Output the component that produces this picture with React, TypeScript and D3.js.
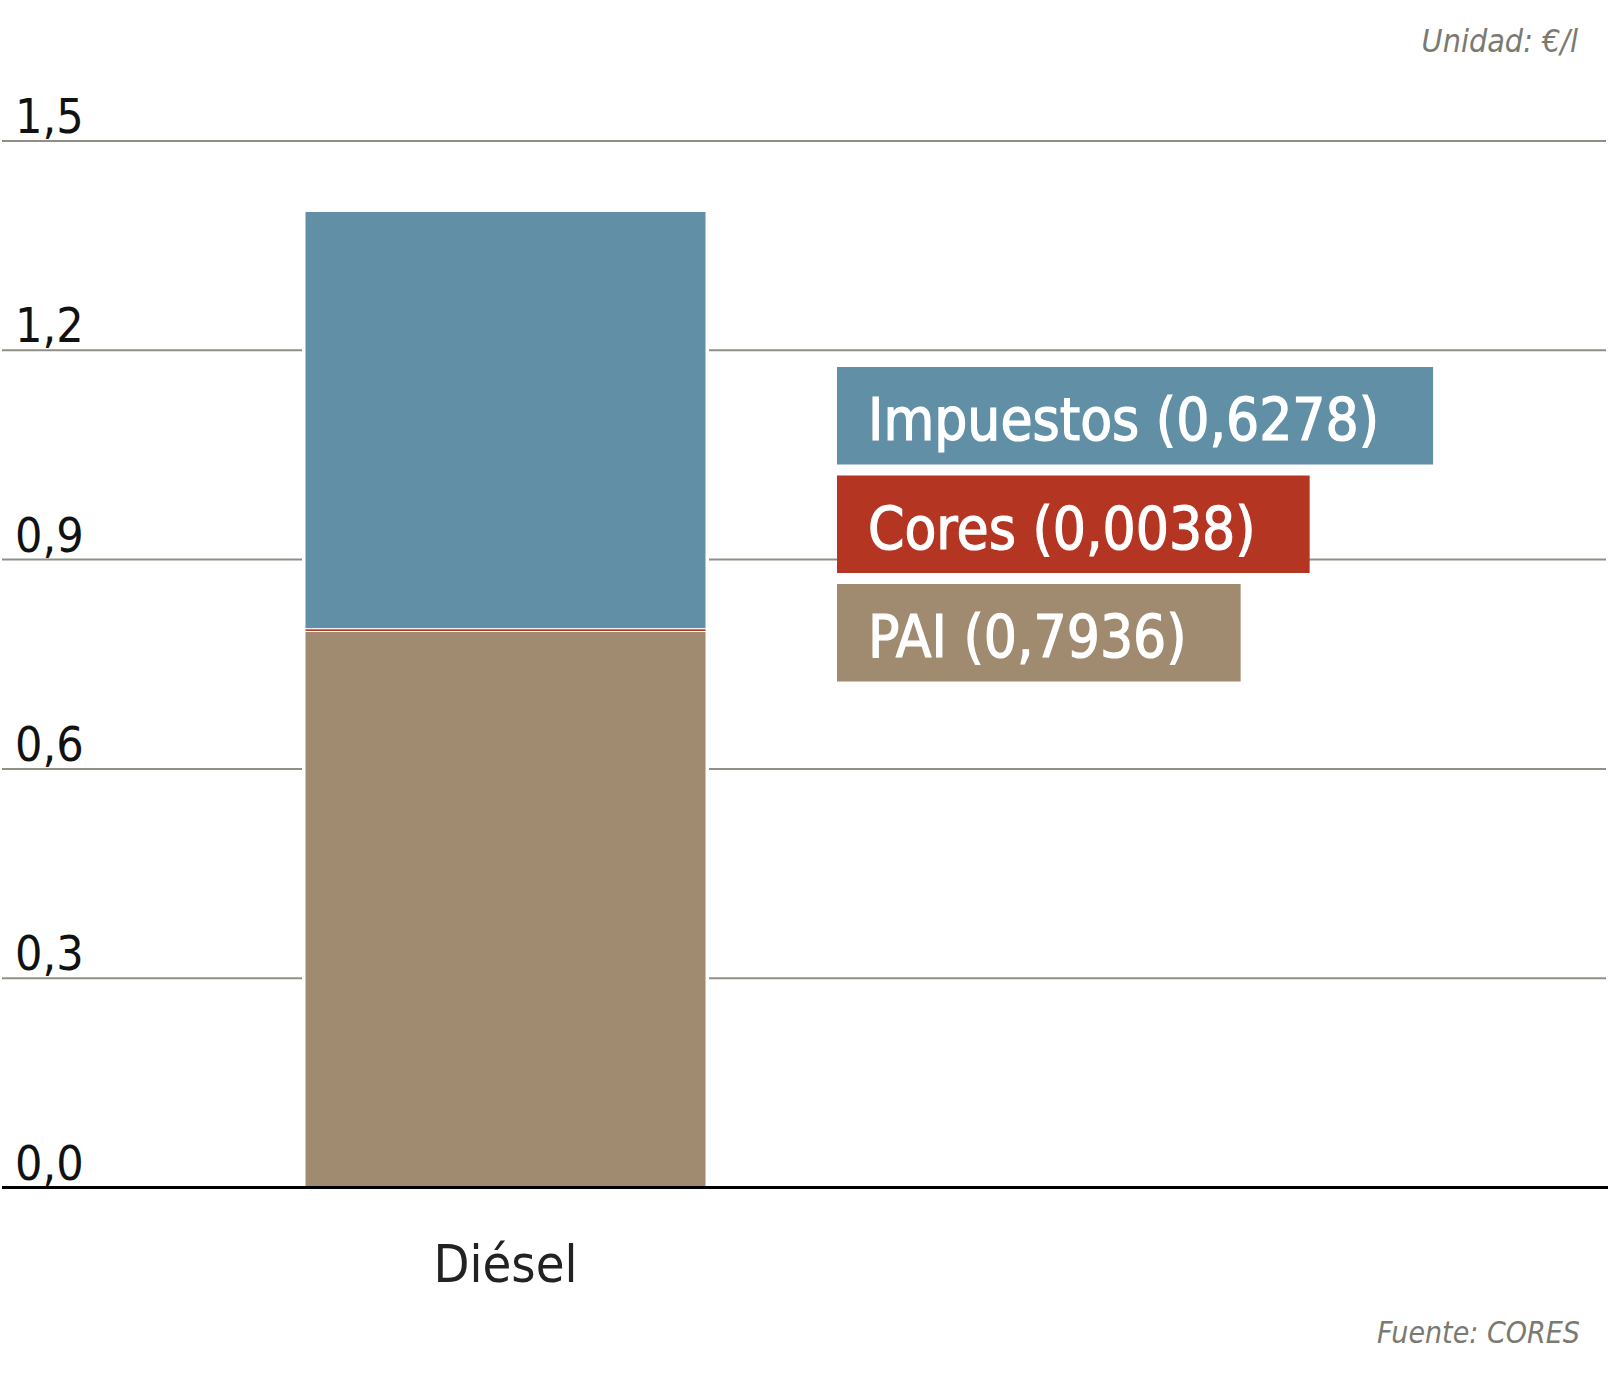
import * as d3 from "d3";
import { useEffect, useRef } from "react";

// category on the x axis
const categories = ["Diésel"];

// stacked segments, bottom to top, heights as drawn in the picture (€/l)
const seriesNames = ["PAI", "Cores", "Impuestos"];
const paiValues = [0.797];
const coresValues = [0.004];
const impuestosValues = [0.598];

// values printed in the legend boxes
const legendLabels = ["Impuestos (0,6278)", "Cores (0,0038)", "PAI (0,7936)"];
const legendColors = ["#618fa6", "#b33522", "#a08b71"];

const yTicks = [0, 0.3, 0.6, 0.9, 1.2, 1.5];
const tickLabels = ["0,0", "0,3", "0,6", "0,9", "1,2", "1,5"];

const colors: Record<string, string> = {
  PAI: "#a08b71",
  Cores: "#b33522",
  Impuestos: "#618fa6",
};

const FONT = "'DejaVu Sans Condensed', 'DejaVu Sans', sans-serif";

const App: React.FC = () => {
  const ref = useRef<SVGSVGElement | null>(null);

  useEffect(() => {
    document.body.style.margin = "0";
    const width = 1608;
    const height = 1375;
    const svg = d3.select(ref.current);
    svg.selectAll("*").remove();
    svg.attr("width", width).attr("height", height);

    const x = d3.scaleBand().domain(categories).range([305, 706]).padding(0);
    const y = d3.scaleLinear().domain([0, 1.5]).range([1187.5, 141]);

    // gridlines
    svg
      .append("g")
      .selectAll("line")
      .data(yTicks.slice(1))
      .enter()
      .append("line")
      .attr("x1", 2)
      .attr("x2", 1606)
      .attr("y1", (d) => y(d))
      .attr("y2", (d) => y(d))
      .attr("stroke", "#8f8f86")
      .attr("stroke-width", 2);

    // tick labels
    svg
      .append("g")
      .selectAll("text")
      .data(yTicks)
      .enter()
      .append("text")
      .attr("x", 15)
      .attr("y", (d) => y(d) - 8)
      .style("font-family", FONT)
      .style("font-size", "48px")
      .style("fill", "#111")
      .text((_, i) => tickLabels[i]);

    const rows = categories.map((c, i) => ({
      category: c,
      PAI: paiValues[i],
      Cores: coresValues[i],
      Impuestos: impuestosValues[i],
    }));
    const stacked = d3.stack<any>().keys(seriesNames)(rows);

    // white gap around bar over gridlines
    svg
      .append("g")
      .selectAll("rect")
      .data(categories)
      .enter()
      .append("rect")
      .attr("x", (d) => (x(d) || 0) - 3)
      .attr("width", x.bandwidth() + 6)
      .attr("y", y(1.5) + 2)
      .attr("height", y(0) - y(1.5))
      .attr("fill", "#fff");

    svg
      .append("g")
      .selectAll("g")
      .data(stacked)
      .enter()
      .append("g")
      .attr("fill", (s) => colors[s.key])
      .selectAll("rect")
      .data((s) => s)
      .enter()
      .append("rect")
      .attr("x", (d) => x(d.data.category) || 0)
      .attr("width", x.bandwidth())
      .attr("y", (d) => y(d[1]))
      .attr("height", (d) => y(d[0]) - y(d[1]))
      .attr("stroke", "#fff")
      .attr("stroke-width", 1);

    // baseline
    svg
      .append("line")
      .attr("x1", 2)
      .attr("x2", 1608)
      .attr("y1", y(0))
      .attr("y2", y(0))
      .attr("stroke", "#000")
      .attr("stroke-width", 3);

    // category label
    svg
      .append("g")
      .selectAll("text")
      .data(categories)
      .enter()
      .append("text")
      .attr("x", (d) => (x(d) || 0) + x.bandwidth() / 2)
      .attr("y", 1282)
      .attr("text-anchor", "middle")
      .style("font-family", FONT)
      .style("font-size", "52px")
      .style("fill", "#222")
      .text((d) => d);

    // legend boxes
    const legend = svg.append("g");
    legendLabels.forEach((label, i) => {
      const top = 367 + i * 108.5;
      const box = legend
        .append("rect")
        .attr("x", 837)
        .attr("y", top)
        .attr("height", 97.5)
        .attr("fill", legendColors[i]);
      const txt = legend
        .append("text")
        .attr("x", 868)
        .attr("y", top + 73)
        .style("font-family", FONT)
        .style("font-size", "58px")
        .style("fill", "#fff")
        .style("stroke", "#fff")
        .style("stroke-width", "1.2px")
        .text(label);
      const w = (txt.node() as SVGTextElement).getComputedTextLength();
      box.attr("width", 31 + w + 54);
    });

    // notes
    svg
      .append("text")
      .attr("x", 1578)
      .attr("y", 52)
      .attr("text-anchor", "end")
      .style("font-family", FONT)
      .style("font-style", "italic")
      .style("font-size", "32px")
      .style("fill", "#7a7a70")
      .text("Unidad: €/l");

    svg
      .append("text")
      .attr("x", 1580)
      .attr("y", 1343)
      .attr("text-anchor", "end")
      .style("font-family", FONT)
      .style("font-style", "italic")
      .style("font-size", "30px")
      .style("fill", "#7a7a70")
      .text("Fuente: CORES");
  }, []);

  return <svg ref={ref}></svg>;
};

export default App;
